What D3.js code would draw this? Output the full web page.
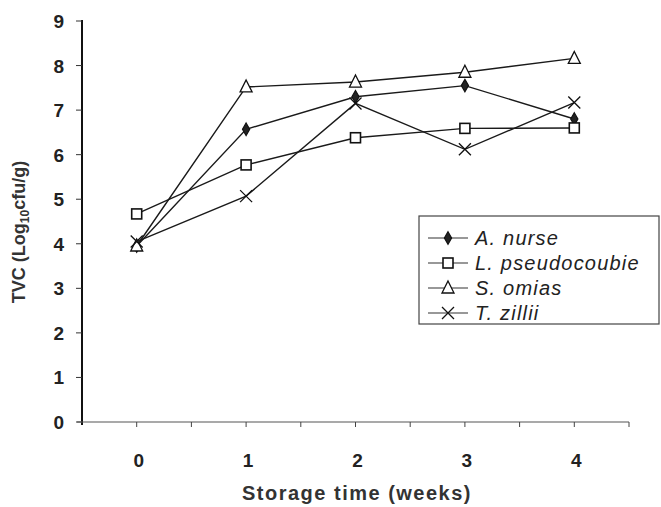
<!DOCTYPE html>
<html lang="en">
<head>
    <meta charset="UTF-8">
    <title>TVC storage time</title>
    <script src="https://cdnjs.cloudflare.com/ajax/libs/d3/7.8.5/d3.min.js"></script>
    <style>
        body {
            margin: 0;
            background: #fff;
        }

        text {
            font-family: "Liberation Sans", Arial, sans-serif;
        }

        .tick-label {
            font-size: 19px;
            font-weight: bold;
            fill: #222;
        }

        .axis-title {
            font-size: 20px;
            font-weight: bold;
            fill: #333;
            letter-spacing: 1.5px;
        }

        .y-title {
            font-size: 18px;
            font-weight: bold;
            fill: #333;
        }

        .legend-label {
            font-size: 20px;
            font-style: italic;
            fill: #222;
            letter-spacing: 1.2px;
        }
    </style>
</head>
<body>
<svg id="chart" width="661" height="507"></svg>

<script>
    let weeks = [0, 1, 2, 3, 4];
    let species = ["A. nurse", "L. pseudocoubie", "S. omias", "T. zillii"];
    let markers = ["diamond", "square", "triangle", "cross"];

    let aNurse = [3.95, 6.57, 7.3, 7.55, 6.8];
    let lPseudocoubie = [4.67, 5.77, 6.38, 6.59, 6.6];
    let sOmias = [3.95, 7.52, 7.63, 7.85, 8.16];
    let tZillii = [4.05, 5.07, 7.15, 6.12, 7.17];

    let yTicks = [0, 1, 2, 3, 4, 5, 6, 7, 8, 9];
    let xTicks = [0, 0.5, 1, 1.5, 2, 2.5, 3, 3.5, 4, 4.5];

    let seriesValues = [aNurse, lPseudocoubie, sOmias, tZillii];

    let svg = d3.select("#chart");

    let x = d3.scaleLinear().domain([-0.5, 4.5]).range([82, 629]);
    let y = d3.scaleLinear().domain([0, 9]).range([422, 21]);

    // y axis
    svg.append("line")
        .attr("x1", x(-0.5)).attr("x2", x(-0.5))
        .attr("y1", y(9) - 1).attr("y2", y(0) + 3)
        .attr("stroke", "#111").attr("stroke-width", 2);

    svg.selectAll(".ytick").data(yTicks).enter().append("line")
        .attr("x1", x(-0.5) - 6).attr("x2", x(-0.5))
        .attr("y1", d => y(d)).attr("y2", d => y(d))
        .attr("stroke", "#333").attr("stroke-width", 1);

    svg.selectAll(".ylab").data(yTicks).enter().append("text")
        .attr("class", "tick-label")
        .attr("x", 64).attr("y", d => y(d) + 7)
        .attr("text-anchor", "end")
        .text(d => d);

    // x axis
    svg.append("line")
        .attr("x1", x(-0.5) - 5).attr("x2", x(4.5))
        .attr("y1", y(0)).attr("y2", y(0))
        .attr("stroke", "#555").attr("stroke-width", 1.2);

    svg.selectAll(".xtick").data(xTicks).enter().append("line")
        .attr("x1", d => x(d)).attr("x2", d => x(d))
        .attr("y1", y(0)).attr("y2", y(0) + 5)
        .attr("stroke", "#444").attr("stroke-width", 1);

    svg.selectAll(".xlab").data(weeks).enter().append("text")
        .attr("class", "tick-label")
        .attr("x", d => x(d) + 2).attr("y", 467)
        .attr("text-anchor", "middle")
        .text(d => d);

    svg.append("text")
        .attr("class", "axis-title")
        .attr("x", 357).attr("y", 500)
        .attr("text-anchor", "middle")
        .text("Storage time (weeks)");

    let yTitle = svg.append("text")
        .attr("class", "y-title")
        .attr("text-anchor", "middle")
        .attr("transform", "translate(25,232) rotate(-90)");
    yTitle.append("tspan").text("TVC (Log");
    yTitle.append("tspan").attr("font-size", "12px").attr("dy", 4).text("10");
    yTitle.append("tspan").attr("dy", -4).text("cfu/g)");

    function drawMarker(g, type, cx, cy) {
        if (type === "diamond") {
            g.append("path")
                .attr("d", d3.symbol().type(d3.symbolDiamond).size(45)())
                .attr("transform", `translate(${cx},${cy})`)
                .attr("fill", "#222").attr("stroke", "#111").attr("stroke-width", 1.2);
        } else if (type === "square") {
            g.append("rect")
                .attr("x", cx - 5).attr("y", cy - 5)
                .attr("width", 10).attr("height", 10)
                .attr("fill", "#fff").attr("stroke", "#111").attr("stroke-width", 1.6);
        } else if (type === "triangle") {
            g.append("path")
                .attr("d", `M${cx},${cy - 7}L${cx + 6},${cy + 5}L${cx - 6},${cy + 5}Z`)
                .attr("fill", "#fff").attr("stroke", "#111").attr("stroke-width", 1.3);
        } else {
            g.append("path")
                .attr("d", `M${cx - 6},${cy - 6}L${cx + 6},${cy + 6}M${cx - 6},${cy + 6}L${cx + 6},${cy - 6}`)
                .attr("stroke", "#111").attr("stroke-width", 1.3);
        }
    }

    let line = d3.line()
        .x((d, i) => x(weeks[i]))
        .y(d => y(d));

    seriesValues.forEach(function (vals) {
        svg.append("path")
            .attr("d", line(vals))
            .attr("fill", "none")
            .attr("stroke", "#1a1a1a")
            .attr("stroke-width", 1.4);
    });

    seriesValues.forEach(function (vals, s) {
        let g = svg.append("g");
        vals.forEach(function (v, i) {
            drawMarker(g, markers[s], x(weeks[i]), y(v));
        });
    });

    // legend
    let legend = svg.append("g");
    legend.append("rect")
        .attr("x", 419).attr("y", 216)
        .attr("width", 240).attr("height", 108)
        .attr("fill", "#fff").attr("stroke", "#444").attr("stroke-width", 1.2);

    species.forEach(function (name, i) {
        let ly = 238 + i * 25;
        legend.append("line")
            .attr("x1", 428).attr("x2", 468)
            .attr("y1", ly).attr("y2", ly)
            .attr("stroke", "#333").attr("stroke-width", 1.2);
        drawMarker(legend, markers[i], 448, ly);
        legend.append("text")
            .attr("class", "legend-label")
            .attr("x", 475).attr("y", ly + 7)
            .text(name);
    });
</script>
</body>
</html>
